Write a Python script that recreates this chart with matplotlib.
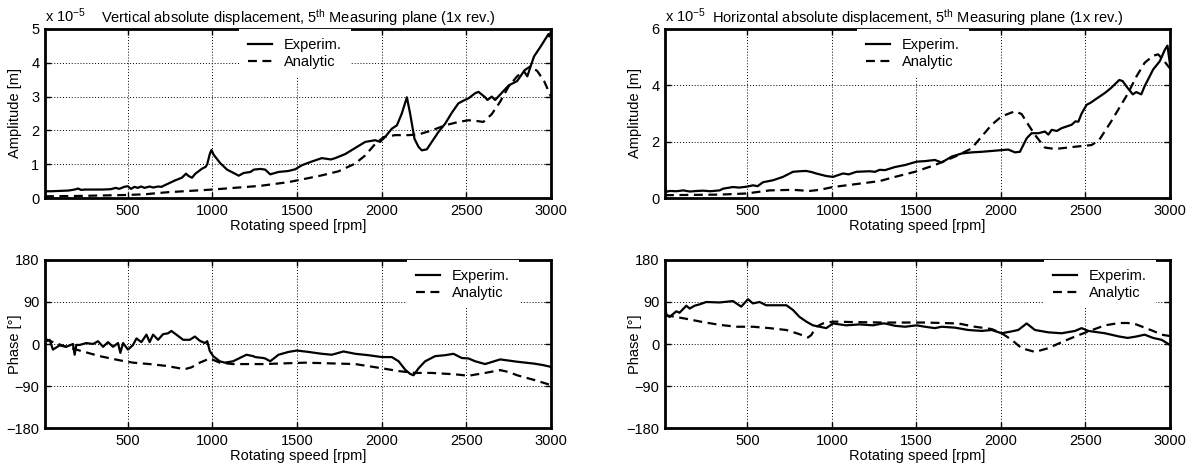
import matplotlib
matplotlib.use("Agg")
import matplotlib.pyplot as plt

plt.rcParams['font.family'] = ['Liberation Sans', 'DejaVu Sans']
plt.rcParams['mathtext.fontset'] = 'custom'
plt.rcParams['mathtext.rm'] = 'Liberation Sans'
plt.rcParams['mathtext.it'] = 'Liberation Sans:italic'
plt.rcParams['mathtext.default'] = 'regular'
plt.rcParams['font.size'] = 10.5

# ---------------- data ----------------
# Vertical amplitude (x 1e-5 m)
va_exp_rpm = [12, 20, 50, 100, 150, 187, 208, 225, 250, 300, 350, 400, 430, 450, 480, 500, 520, 540,
              560, 580, 600, 630, 650, 680, 700, 720, 750, 780, 820, 845, 860, 880, 900, 940, 960, 970,
              985, 995, 1008, 1047, 1087, 1126, 1156, 1185, 1225, 1245, 1284, 1312, 1342, 1391, 1450,
              1490, 1529, 1588, 1647, 1700, 1726, 1785, 1844, 1903, 1962, 1991, 2021, 2060, 2090, 2119,
              2149, 2168, 2194, 2218, 2237, 2267, 2296, 2335, 2375, 2414, 2453, 2483, 2513, 2552, 2572,
              2611, 2625, 2650, 2670, 2700, 2750, 2800, 2840, 2860, 2880, 2900, 2940, 2970, 2985, 2990, 3000]
va_exp = [0.15, 0.2, 0.2, 0.21, 0.22, 0.25, 0.28, 0.24, 0.25, 0.25, 0.25, 0.26, 0.3, 0.27, 0.33, 0.35, 0.27, 0.33,
          0.3, 0.34, 0.3, 0.34, 0.31, 0.34, 0.33, 0.38, 0.45, 0.52, 0.6, 0.72, 0.65, 0.6, 0.72, 0.87, 0.92, 1.0,
          1.3, 1.42, 1.28, 1.03, 0.84, 0.74, 0.66, 0.74, 0.77, 0.84, 0.86, 0.84, 0.7, 0.77, 0.8,
          0.85, 0.97, 1.08, 1.18, 1.14, 1.18, 1.3, 1.48, 1.66, 1.71, 1.66, 1.81, 2.05, 2.15, 2.5,
          2.98, 2.5, 1.75, 1.51, 1.41, 1.44, 1.66, 1.95, 2.2, 2.52, 2.8, 2.88, 2.95, 3.1, 3.14,
          2.98, 2.9, 3.0, 2.9, 3.06, 3.33, 3.46, 3.75, 3.6, 3.9, 4.19, 4.49, 4.73, 4.85, 4.78, 4.93]
va_ana_rpm = [12, 200, 500, 600, 734, 1000, 1284, 1450, 1550, 1647, 1745, 1844, 1903, 1962, 2011, 2080,
              2158, 2218, 2296, 2375, 2453, 2513, 2560, 2600, 2650, 2700, 2750, 2800, 2850, 2880, 2920,
              2960, 3000]
va_ana = [0.05, 0.06, 0.09, 0.11, 0.17, 0.25, 0.36, 0.47, 0.57, 0.67, 0.79, 1.02, 1.26, 1.6, 1.8, 1.86,
          1.86, 1.88, 2.0, 2.15, 2.25, 2.3, 2.28, 2.25, 2.48, 2.85, 3.3, 3.6, 3.8, 3.9, 3.75,
          3.45, 3.0]

# Horizontal amplitude (x 1e-5 m)
ha_exp_rpm = [12, 20, 40, 80, 120, 160, 200, 240, 280, 335, 355, 414, 450, 493, 533, 560, 592, 651, 710,
              769, 808, 848, 880, 907, 966, 1006, 1065, 1100, 1144, 1223, 1254, 1282, 1314, 1373, 1432,
              1501, 1550, 1609, 1649, 1708, 1767, 1826, 1885, 1945, 2004, 2043, 2083, 2112, 2152, 2181,
              2221, 2260, 2280, 2300, 2330, 2359, 2418, 2440, 2458, 2477, 2507, 2530, 2556, 2615, 2650,
              2700, 2720, 2750, 2780, 2800, 2830, 2850, 2900, 2940, 2970, 2985, 3000]
ha_exp = [0.45, 0.22, 0.25, 0.24, 0.27, 0.23, 0.25, 0.26, 0.24, 0.27, 0.33, 0.39, 0.37, 0.4, 0.45, 0.42,
          0.56, 0.63, 0.75, 0.93, 0.95, 0.96, 0.92, 0.87, 0.78, 0.75, 0.87, 0.84, 0.93, 0.95, 0.93,
          1.0, 0.99, 1.1, 1.17, 1.29, 1.31, 1.35, 1.26, 1.47, 1.58, 1.62, 1.64, 1.67, 1.7, 1.72,
          1.62, 1.64, 2.12, 2.3, 2.3, 2.36, 2.25, 2.42, 2.38, 2.48, 2.6, 2.72, 2.71, 3.0, 3.31, 3.38,
          3.49, 3.73, 3.9, 4.19, 4.15, 3.9, 3.68, 3.76, 3.68, 3.97, 4.56, 4.86, 5.27, 5.41, 4.74]
ha_ana_rpm = [12, 335, 493, 631, 769, 868, 927, 1006, 1124, 1282, 1373, 1491, 1609, 1728, 1826, 1885,
              1945, 2004, 2083, 2122, 2162, 2201, 2260, 2320, 2438, 2536, 2580, 2650, 2700, 2750, 2800,
              2850, 2900, 2930, 2960, 3000]
ha_ana = [0.1, 0.12, 0.16, 0.27, 0.29, 0.25, 0.29, 0.39, 0.48, 0.6, 0.75, 0.93, 1.17, 1.47, 1.76, 2.18,
          2.6, 2.9, 3.08, 2.98, 2.6, 2.24, 1.79, 1.74, 1.82, 1.88, 2.05, 2.7, 3.2, 3.7, 4.3,
          4.8, 5.05, 5.1, 4.9, 4.6]

# Vertical phase (deg)
vp_exp_rpm = [12, 20, 39, 59, 98, 138, 177, 187, 197, 217, 256, 296, 325, 355, 384, 414, 443, 457, 473,
              502, 532, 552, 581, 611, 630, 650, 680, 709, 739, 758, 788, 828, 867, 897, 926, 956, 970,
              985, 1005, 1044, 1074, 1123, 1162, 1202, 1241, 1253, 1300, 1312, 1342, 1391, 1450, 1500,
              1568, 1647, 1706, 1775, 1844, 1922, 2001, 2060, 2100, 2139, 2168, 2188, 2218, 2257, 2316,
              2375, 2424, 2473, 2513, 2552, 2611, 2700, 2800, 2900, 2950, 3000]
vp_exp = [20, 6, 9, -12, -3, -6, 0, -23, -2, -2, 2, 0, 6, -6, 4, -6, 2, -19, 2,
          -12, -2, 12, 4, 20, 4, 20, 9, 21, 23, 28, 20, 9, 9, 16, 7, 2, 6,
          -15, -26, -37, -40, -37, -30, -23, -26, -28, -30, -31, -37, -23, -17, -14,
          -17, -21, -23, -16, -21, -24, -28, -28, -37, -55, -64, -67, -52, -37, -26,
          -24, -21, -30, -31, -37, -43, -33, -38, -42, -45, -49]
vp_ana_rpm = [12, 59, 138, 236, 335, 453, 532, 630, 729, 837, 877, 926, 985, 1044, 1123, 1300, 1548,
              1844, 2001, 2100, 2198, 2296, 2434, 2513, 2611, 2700, 2750, 2800, 2900, 3000]
vp_ana = [11, 4, -6, -16, -26, -35, -40, -43, -47, -54, -50, -40, -31, -40, -43, -43, -40,
          -43, -52, -58, -62, -62, -65, -68, -62, -56, -60, -67, -77, -88]

# Horizontal phase (deg)
hp_exp_rpm = [12, 20, 39, 79, 98, 138, 158, 187, 217, 256, 335, 414, 463, 503, 532, 572, 611, 651, 730,
              769, 808, 848, 887, 927, 966, 1006, 1084, 1163, 1242, 1301, 1314, 1373, 1432, 1501, 1550,
              1609, 1649, 1728, 1807, 1885, 1945, 2004, 2063, 2102, 2152, 2201, 2280, 2359, 2438, 2477,
              2517, 2615, 2700, 2750, 2800, 2850, 2900, 2950, 3000]
hp_exp = [90, 62, 58, 70, 67, 82, 76, 82, 85, 90, 89, 92, 80, 96, 87, 90, 83, 83, 83,
          73, 58, 48, 40, 37, 34, 44, 40, 42, 40, 44, 44, 39, 37, 40, 37,
          34, 37, 35, 30, 28, 30, 23, 27, 30, 44, 30, 25, 23, 28, 34,
          28, 23, 16, 13, 16, 20, 13, 9, -2]
hp_ana_rpm = [12, 138, 236, 335, 434, 532, 631, 730, 808, 858, 877, 907, 946, 1006, 1124, 1301, 1550,
              1747, 1846, 1945, 2004, 2063, 2122, 2201, 2280, 2359, 2438, 2517, 2615, 2700, 2750, 2800,
              2850, 2900, 2950, 3000]
hp_ana = [62, 54, 47, 41, 37, 37, 34, 30, 21, 14, 19, 37, 44, 48, 47, 46, 46,
          44, 37, 32, 23, 9, -9, -17, -9, 4, 16, 27, 40, 45, 45, 42,
          35, 28, 20, 17]

x_ticks = [500, 1000, 1500, 2000, 2500, 3000]
amp_v_ticks = [0, 1, 2, 3, 4, 5]
amp_h_ticks = [0, 2, 4, 6]
phase_ticks = [-180, -90, 0, 90, 180]

titles = ["Vertical absolute displacement, 5$^{th}$ Measuring plane (1x rev.)",
          "Horizontal absolute displacement, 5$^{th}$ Measuring plane (1x rev.)"]
exp_label = "x 10$^{-5}$"

# ---------------- figure ----------------
W, H = 1193, 470
fig = plt.figure(figsize=(W / 100, H / 100), dpi=100)


def make_ax(x0, y0, x1, y1):
    return fig.add_axes([x0 / W, 1 - y1 / H, (x1 - x0) / W, (y1 - y0) / H])


ax_tl = make_ax(45, 29, 551, 198)
ax_tr = make_ax(665, 29, 1170, 198)
ax_bl = make_ax(45, 260, 551, 428)
ax_br = make_ax(665, 260, 1170, 428)

solid_kw = dict(color='black', lw=1.6, linestyle='-')
dash_kw = dict(color='black', lw=1.6, linestyle=(0, (4, 2.5)))


def style(ax, yticks, ylim, ylabel):
    ax.set_xlim(12, 3000)
    ax.set_ylim(*ylim)
    ax.set_xticks(x_ticks)
    ax.set_yticks(yticks)
    ax.grid(True, color='black', linestyle=(0, (1, 2)), linewidth=0.7)
    ax.tick_params(direction='in', length=4, width=1, labelsize=10.5, pad=4,
                   top=True, right=True)
    for s in ax.spines.values():
        s.set_linewidth(2.0)
    ax.set_xlabel("Rotating speed [rpm]", fontsize=10.5, labelpad=1)
    ax.set_ylabel(ylabel, fontsize=10.5)
    w = ax.get_position().width * W
    ax.yaxis.set_label_coords(-23.0 / w, 0.5)


def legend(ax, xa):
    leg = ax.legend(loc='upper left', bbox_to_anchor=(xa, 1.0), borderaxespad=0,
                    frameon=True, fancybox=False, framealpha=1, facecolor='white',
                    edgecolor='white', handlelength=1.7, handletextpad=0.8,
                    borderpad=0.6, labelspacing=0.2, fontsize=10.5)
    leg.get_frame().set_linewidth(0)


ax_tl.plot(va_exp_rpm, va_exp, label="Experim.", **solid_kw)
ax_tl.plot(va_ana_rpm, va_ana, label="Analytic", **dash_kw)
style(ax_tl, amp_v_ticks, (0, 5), "Amplitude [m]")
legend(ax_tl, 0.383)

ax_tr.plot(ha_exp_rpm, ha_exp, label="Experim.", **solid_kw)
ax_tr.plot(ha_ana_rpm, ha_ana, label="Analytic", **dash_kw)
style(ax_tr, amp_h_ticks, (0, 6), "Amplitude [m]")
legend(ax_tr, 0.380)

ax_bl.plot(vp_exp_rpm, vp_exp, label="Experim.", **solid_kw)
ax_bl.plot(vp_ana_rpm, vp_ana, label="Analytic", **dash_kw)
style(ax_bl, phase_ticks, (-180, 180), "Phase [°]")
legend(ax_bl, 0.715)

ax_br.plot(hp_exp_rpm, hp_exp, label="Experim.", **solid_kw)
ax_br.plot(hp_ana_rpm, hp_ana, label="Analytic", **dash_kw)
style(ax_br, phase_ticks, (-180, 180), "Phase [°]")
legend(ax_br, 0.750)

for ax, t in [(ax_tl, titles[0]), (ax_tr, titles[1])]:
    ax.text(0.5, 1.04, t, transform=ax.transAxes, ha='center', va='baseline', fontsize=10.5)
    ax.text(0.0, 1.04, exp_label, transform=ax.transAxes, ha='left', va='baseline', fontsize=10.5)

fig.savefig("out.png", dpi=100)
